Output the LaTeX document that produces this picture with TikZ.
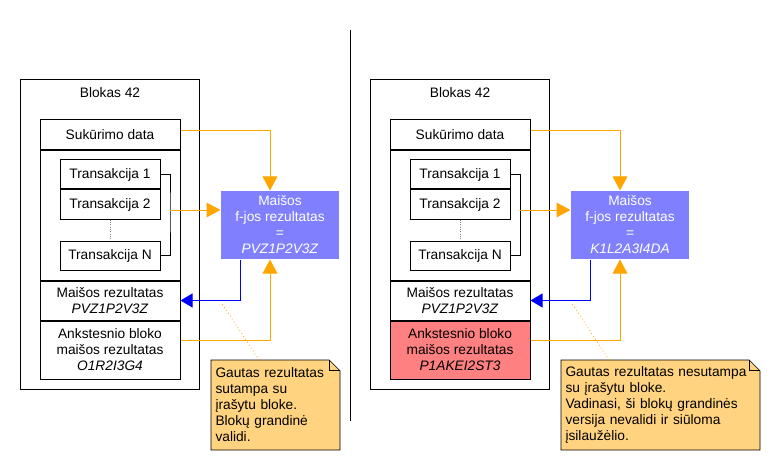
\documentclass[tikz,border=0pt]{standalone}
\usepackage{fontspec}
\setmainfont{Liberation Sans}
\usetikzlibrary{arrows.meta,backgrounds}
\definecolor{hashblue}{RGB}{128,128,255}
\definecolor{linkorange}{RGB}{255,165,0}
\definecolor{notefill}{RGB}{255,211,128}
\definecolor{badred}{RGB}{255,128,128}

\begin{document}
\begin{tikzpicture}[
  x=0.75pt,y=-0.75pt,
  font=\fontsize{10.3}{12}\selectfont,
  line width=0.75pt,
  box/.style={draw,align=center,minimum width=105pt,inner sep=0pt},
  tx/.style={draw,minimum width=75pt,minimum height=21.75pt,inner sep=0pt},
  hash/.style={fill=hashblue,text=white,align=center,
               minimum width=88.5pt,minimum height=51pt,inner sep=0pt},
  note/.style={anchor=north west,align=left,inner sep=3pt,minimum height=66.75pt},
  feed/.style={draw=linkorange,-{Triangle[length=10.5pt,width=11pt]}},
  back/.style={draw=blue,-{Triangle[length=9pt,width=10.5pt]}},
  hint/.style={draw=linkorange,dotted,line width=0.6pt},
]
\useasboundingbox (0,0) rectangle (780,470);
% ---------- divider between the two cases ----------
\coordinate (divtop) at (350,30);
\coordinate (divbot) at (350,421);
\draw (divtop) -- (divbot);
% ---------- one block + hash check per case ----------
\foreach \s/\dx/\prevfill/\prevhash/\hashval/\notewd/\notetxt in {
  L/0/white/O1R2I3G4/PVZ1P2V3Z/90pt/{Gautas rezultatas\\sutampa su\\įrašytu bloke.\\Blokų grandinė\\validi.},
  R/350/badred/P1AKEI2ST3/K1L2A3I4DA/142.5pt/{Gautas rezultatas nesutampa\\su įrašytu bloke.\\Vadinasi, ši blokų grandinės\\versija nevalidi ir siūloma\\įsilaužėlio.}}{
\begin{scope}[xshift=\dx*0.75pt]
  % block
  \node[draw,minimum width=134.25pt,minimum height=231.75pt] (blk\s) at (109.5,234.5) {};
  \node (ttl\s) at (110,93) {Blokas 42};
  \node[box,minimum height=22.5pt] (suk\s) at (110,135) {Sukūrimo data};
  \node[box,minimum height=96.75pt] (txs\s) at (110,215.5) {};
  \node[tx] (ta\s) at (110,174.5) {Transakcija 1};
  \node[tx] (tb\s) at (110,204.5) {Transakcija 2};
  \node[tx] (tn\s) at (110,255.5) {Transakcija N};
  \node[box,minimum height=29.25pt] (mres\s) at (110,300.5) {Maišos rezultatas\\\textit{PVZ1P2V3Z}};
  \node[box,fill=\prevfill,minimum height=43.5pt] (prev\s) at (110,350)
     {Ankstesnio bloko\\maišos rezultatas\\\textit{\prevhash}};
  % hash of the block
  \node[hash] (hash\s) at (280,225) {Maišos\\f-jos rezultatas\\=\\\textit{\hashval}};
  % note
  \node[note,text width=\notewd] (note\s) at (211,360) {\notetxt};
  \begin{scope}[on background layer]
    \draw[fill=notefill] (note\s.north west) -- ([xshift=-8pt]note\s.north east)
      -- ([yshift=-8pt]note\s.north east) -- (note\s.south east) -- (note\s.south west) -- cycle;
  \end{scope}
  \draw ([xshift=-8pt]note\s.north east) |- ([yshift=-8pt]note\s.north east);
  % edges
  \coordinate (br\s) at (170,210);
  \coordinate (tip\s) at (221,302);
  \draw[gray,densely dotted] (tb\s) -- (tn\s);
  \draw (ta\s.east) -| (br\s) |- (tn\s.east);
  \draw[feed] (br\s) -- (br\s -| hash\s.west);
  \draw[feed] ([yshift=3pt]suk\s.east) -| ([xshift=-7.5pt]hash\s.north);
  \draw[feed] ([yshift=7pt]prev\s.east) -| ([xshift=-7.5pt]hash\s.south);
  \draw[back] ([xshift=-30pt]hash\s.south) |- (mres\s.east);
  \draw[hint] ([xshift=36pt]note\s.north west) -- (tip\s);
\end{scope}
}
\end{tikzpicture}
\end{document}
